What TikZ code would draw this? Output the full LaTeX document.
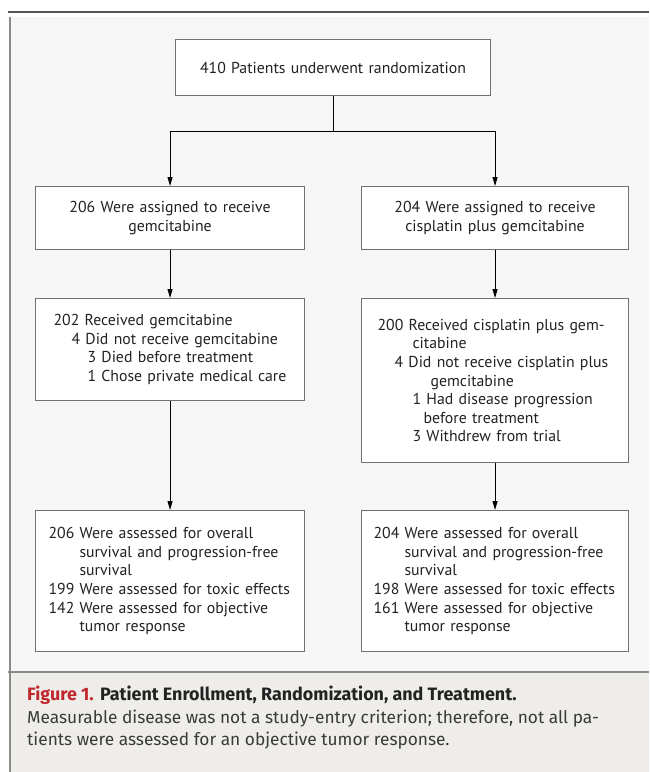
\documentclass[tikz,border=0pt]{standalone}
\usepackage{fontspec}
\setmainfont{PT Sans}
\newfontfamily\capfont{Fira Sans}
\usetikzlibrary{arrows.meta}
\definecolor{figbg}{HTML}{F6F6F6}
\definecolor{capbg}{HTML}{EFEDE9}
\definecolor{rulegray}{HTML}{555555}
\definecolor{framegray}{HTML}{8A8A8A}
\definecolor{boxline}{HTML}{707070}
\definecolor{figred}{HTML}{C0272D}
\definecolor{txt}{HTML}{222222}
\definecolor{captxt}{HTML}{3A3A3A}
\definecolor{captitle}{HTML}{222222}
\newcommand{\ind}[1]{\hspace*{#1pt}}
\tikzset{
  box/.style={draw=boxline, line width=1.1pt, fill=white, anchor=north west,
    font=\fontsize{15.8pt}{18.6pt}\selectfont, text=txt, inner ysep=0pt},
  cbox/.style={box, align=center},
  lbox/.style={box, align=left, inner xsep=0pt},
  arr/.style={draw=black, line width=1pt, -{Triangle[length=9pt,width=5pt]}},
  captext/.style={anchor=base west, inner sep=0pt, text=captxt,
    font=\capfont\fontsize{17.3pt}{22pt}\selectfont}
}
\begin{document}
\begin{tikzpicture}[x=1pt,y=-1pt]
\useasboundingbox (0,0) rectangle (649,772);
\fill[white] (0,0) rectangle (649,772);
% figure area and caption band
\fill[figbg] (10,17) rectangle (649,672);
\fill[capbg] (10,672) rectangle (649,772);
\draw[rulegray, line width=2.5pt] (8,12) -- (649,12);
\draw[framegray, line width=1.3pt] (10,17) -- (10,772);
\draw[framegray, line width=1.5pt] (8,672) -- (649,672);

% boxes
\node[cbox, minimum width=315pt, minimum height=56pt, text width=295pt] (top) at (175,39)
  {410 Patients underwent randomization};

\node[cbox, minimum width=269pt, minimum height=63pt, text width=249pt] (l2) at (35,186)
  {206 Were assigned to receive\\gemcitabine};
\node[cbox, minimum width=267pt, minimum height=63pt, text width=247pt] (r2) at (361,186)
  {204 Were assigned to receive\\cisplatin plus gemcitabine};

\node[lbox, minimum width=269pt, minimum height=102pt, text width=269pt] (l3) at (35,298)
  {\ind{18}202 Received gemcitabine\\
   \ind{36}4 Did not receive gemcitabine\\
   \ind{52}3 Died before treatment\\
   \ind{52}1 Chose private medical care};
\node[lbox, minimum width=267pt, minimum height=164pt, text width=267pt] (r3) at (361,298)
  {\ind{16}200 Received cisplatin plus gem-\\
   \ind{51}citabine\\
   \ind{33}4 Did not receive cisplatin plus\\
   \ind{69}gemcitabine\\
   \ind{51}1 Had disease progression\\
   \ind{62}before treatment\\
   \ind{51}3 Withdrew from trial};

\node[lbox, minimum width=269pt, minimum height=141pt, text width=269pt] (l4) at (35,510)
  {\ind{13}206 Were assessed for overall\\
   \ind{44}survival and progression-free\\
   \ind{44}survival\\
   \ind{13}199 Were assessed for toxic effects\\
   \ind{13}142 Were assessed for objective\\
   \ind{44}tumor response};
\node[lbox, minimum width=267pt, minimum height=141pt, text width=267pt] (r4) at (361,510)
  {\ind{12}204 Were assessed for overall\\
   \ind{43}survival and progression-free\\
   \ind{43}survival\\
   \ind{12}198 Were assessed for toxic effects\\
   \ind{12}161 Were assessed for objective\\
   \ind{43}tumor response};

% connectors
\coordinate (jl) at ([yshift=55pt]l2.north);
\coordinate (jr) at ([yshift=55pt]r2.north);
\draw[arr] (top.south) |- (jl) -- (l2.north);
\draw[arr] (top.south) |- (jr) -- (r2.north);
\draw[arr] (l2.south) -- (l3.north);
\draw[arr] (r2.south) -- (r3.north);
\draw[arr] (l3.south) -- (l4.north);
\draw[arr] (r3.south) -- (r4.north);

% caption
\node[captext] (cap1) at (27,700)
  {\fontsize{17.9pt}{22pt}\selectfont\textbf{\textcolor{figred}{Figure 1.}} \textbf{\textcolor{captitle}{Patient Enrollment, Randomization, and Treatment.}}};
\node[captext] (cap2) at (27,723)
  {Measurable disease was not a study-entry criterion; therefore, not all pa-};
\node[captext] (cap3) at (27,745)
  {tients were assessed for an objective tumor response.};
\end{tikzpicture}
\end{document}
